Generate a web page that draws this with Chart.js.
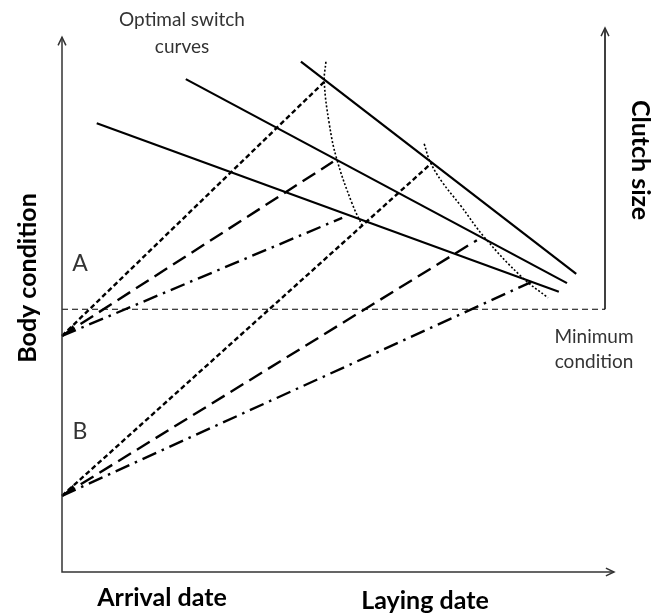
<!DOCTYPE html>
<html>
<head>
<meta charset="utf-8">
<script src="https://cdn.jsdelivr.net/npm/chart.js@4"></script>
<style>
  html, body { margin: 0; padding: 0; background: #fff; }
  #wrap { width: 665px; height: 613px; }
</style>
</head>
<body>
<div id="wrap"><canvas id="switchChart" width="665" height="613"></canvas></div>
<script>
// values (x = date, y = body condition, both 0..100)
const startA = 43.4;
const startB = 14.0;
const minCondition = 48.3;

const optimalHigh = [{ x: 44.0, y: 93.8 }, { x: 94.7, y: 54.8 }];
const optimalMid = [{ x: 22.8, y: 90.6 }, { x: 93.0, y: 53.1 }];
const optimalLow = [{ x: 6.4, y: 82.5 }, { x: 91.5, y: 51.5 }];

const fastA = [{ x: 0, y: startA }, { x: 48.3, y: 90.1 }];
const mediumA = [{ x: 0, y: startA }, { x: 49.9, y: 75.4 }];
const slowA = [{ x: 0, y: startA }, { x: 51.6, y: 65.1 }];

const fastB = [{ x: 0, y: startB }, { x: 68.1, y: 75.2 }];
const mediumB = [{ x: 0, y: startB }, { x: 76.4, y: 61.0 }];
const slowB = [{ x: 0, y: startB }, { x: 86.4, y: 53.3 }];

const switchCurveA = [
    { x: 48.6, y: 93.8 }, { x: 48.3, y: 90.1 }, { x: 49.2, y: 82.5 },
    { x: 50.6, y: 75.9 }, { x: 53.4, y: 67.8 }, { x: 55.4, y: 63.4 }
];
const switchCurveB = [
    { x: 66.7, y: 78.7 }, { x: 67.8, y: 75.4 }, { x: 70.0, y: 71.7 },
    { x: 73.3, y: 67.5 }, { x: 77.9, y: 61.4 }, { x: 84.7, y: 54.2 },
    { x: 89.5, y: 50.4 }
];

const minLine = [{ x: 0, y: minCondition }, { x: 100, y: minCondition }];
const clutchAxis = [{ x: 100, y: minCondition }, { x: 100, y: 100 }];

document.addEventListener('DOMContentLoaded', () => {
    drawChart();
});

function lineSet(data, dash, width, tension) {
    return {
        data: data,
        borderColor: '#000',
        borderWidth: width,
        borderDash: dash,
        pointRadius: 0,
        tension: tension || 0,
        fill: false,
        clip: false
    };
}

const frame = {
    id: 'frame',
    afterDraw(chart) {
        const ctx = chart.ctx;
        const x = chart.scales.x;
        const y = chart.scales.y;
        const x0 = x.getPixelForValue(0);
        const y0 = y.getPixelForValue(0);
        const xEnd = x.getPixelForValue(100) + 9;
        const yTop = y.getPixelForValue(98.3);

        ctx.save();
        ctx.strokeStyle = '#333';
        ctx.lineWidth = 1.5;
        ctx.setLineDash([]);
        ctx.beginPath();
        ctx.moveTo(x0, yTop);
        ctx.lineTo(x0, y0);
        ctx.lineTo(xEnd, y0);
        ctx.stroke();

        // open arrow heads
        const chevron = (px, py, ang) => {
            ctx.beginPath();
            ctx.moveTo(px + 9 * Math.cos(ang - 0.45), py + 9 * Math.sin(ang - 0.45));
            ctx.lineTo(px, py);
            ctx.lineTo(px + 9 * Math.cos(ang + 0.45), py + 9 * Math.sin(ang + 0.45));
            ctx.stroke();
        };
        chevron(x0, yTop, Math.PI / 2);
        chevron(xEnd, y0, Math.PI);
        chevron(x.getPixelForValue(100), y.getPixelForValue(100), Math.PI / 2);

        // small filled heads where the trajectories meet the axis
        ctx.fillStyle = '#000';
        [startA, startB].forEach(v => {
            const py = y.getPixelForValue(v);
            ctx.beginPath();
            ctx.moveTo(x0, py);
            ctx.lineTo(x0 + 11, py - 11);
            ctx.lineTo(x0 + 13, py - 6);
            ctx.closePath();
            ctx.fill();
        });

        ctx.fillStyle = '#333';
        ctx.textAlign = 'center';
        ctx.textBaseline = 'middle';
        ctx.font = '19px Lato';
        ctx.fillText('Optimal switch', 182, 20);
        ctx.fillText('curves', 182, 47);
        ctx.fillText('Minimum', 594, 337);
        ctx.fillText('condition', 594, 362);
        ctx.font = '23px Lato';
        ctx.fillText('A', 80, 264);
        ctx.fillText('B', 80, 432);

        ctx.fillStyle = '#000';
        ctx.font = 'bold 25px Lato';
        ctx.fillText('Arrival date', 162, 598);
        ctx.fillText('Laying date', 425, 601);

        ctx.save();
        ctx.translate(28, 278);
        ctx.rotate(-Math.PI / 2);
        ctx.fillText('Body condition', 0, 0);
        ctx.restore();

        ctx.save();
        ctx.translate(640, 160);
        ctx.rotate(Math.PI / 2);
        ctx.fillText('Clutch size', 0, 0);
        ctx.restore();

        ctx.restore();
    }
};

function drawChart() {
    const ctx = document.getElementById('switchChart').getContext('2d');
    const shortDash = [5, 3];
    const longDash = [15, 7];
    const dashDot = [15, 6, 2.5, 6];
    const dotted = [2, 2];

    new Chart(ctx, {
        type: 'scatter',
        data: {
            datasets: [
                lineSet(minLine, [6, 4], 1.2),
                lineSet(clutchAxis, [], 1.5),
                lineSet(optimalHigh, [], 2.2),
                lineSet(optimalMid, [], 2.2),
                lineSet(optimalLow, [], 2.2),
                lineSet(fastA, shortDash, 2.4),
                lineSet(mediumA, longDash, 2.4),
                lineSet(slowA, dashDot, 2.4),
                lineSet(fastB, shortDash, 2.4),
                lineSet(mediumB, longDash, 2.4),
                lineSet(slowB, dashDot, 2.4),
                lineSet(switchCurveA, dotted, 1.6, 0.4),
                lineSet(switchCurveB, dotted, 1.6, 0.4)
            ].map(d => ({ ...d, showLine: true }))
        },
        options: {
            responsive: false,
            animation: false,
            layout: {
                padding: { left: 62, right: 60, top: 28, bottom: 41 }
            },
            plugins: {
                legend: { display: false },
                tooltip: { enabled: false }
            },
            scales: {
                x: { type: 'linear', min: 0, max: 100, display: false },
                y: { type: 'linear', min: 0, max: 100, display: false }
            }
        },
        plugins: [frame]
    });
}
</script>
</body>
</html>
